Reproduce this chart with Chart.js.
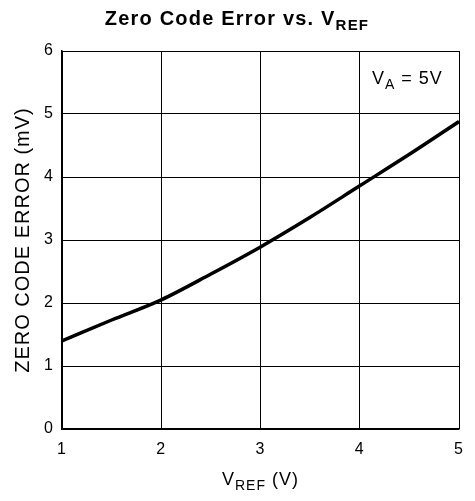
<!DOCTYPE html>
<html>
<head>
<meta charset="utf-8">
<script src="https://cdn.jsdelivr.net/npm/chart.js@4"></script>
<style>
  html, body { margin: 0; padding: 0; background: #fff; }
  #wrap { width: 475px; height: 501px; }
</style>
</head>
<body>
<div id="wrap"><canvas id="chart" width="475" height="501"></canvas></div>
<script>
// data
const vref = [1, 1.5, 2, 2.5, 3, 3.5, 4, 4.5, 5];
const zeroCodeError = [1.40, 1.73, 2.05, 2.46, 2.89, 3.36, 3.86, 4.36, 4.88];
const xTicks = [1, 2, 3, 4, 5];
const yTicks = [0, 1, 2, 3, 4, 5, 6];

const FONT = '"Liberation Sans", Arial, Helvetica, sans-serif';

// text with a subscript, drawn centered at x
function drawSub(ctx, parts, x, y, spacing) {
  ctx.letterSpacing = spacing + 'px';
  let total = 0;
  parts.forEach(p => { ctx.font = p.font; total += ctx.measureText(p.text).width; });
  let cx = x - total / 2;
  ctx.textAlign = 'left';
  ctx.textBaseline = 'alphabetic';
  ctx.fillStyle = '#000';
  parts.forEach(p => {
    ctx.font = p.font;
    ctx.fillText(p.text, cx, y + (p.dy || 0));
    cx += ctx.measureText(p.text).width;
  });
}

// looser letter spacing, like the original
const spacingPlugin = {
  id: 'spacing',
  beforeDraw(chart) { chart.ctx.letterSpacing = '1px'; }
};

const labelsPlugin = {
  id: 'labels',
  afterDraw(chart) {
    const ctx = chart.ctx;
    const a = chart.chartArea;
    ctx.save();
    // title
    drawSub(ctx, [
      { text: 'Zero Code Error vs. V', font: 'bold 20px ' + FONT },
      { text: 'REF', font: 'bold 15px ' + FONT, dy: 5 }
    ], 237, 25, 1.2);
    // x axis title
    drawSub(ctx, [
      { text: 'V', font: '18px ' + FONT },
      { text: 'REF', font: '14px ' + FONT, dy: 5 },
      { text: ' (V)', font: '18px ' + FONT }
    ], (a.left + a.right) / 2, 485, 1);
    // condition note
    const xs = chart.scales.x, ys = chart.scales.y;
    drawSub(ctx, [
      { text: 'V', font: '18px ' + FONT },
      { text: 'A', font: '14px ' + FONT, dy: 5 },
      { text: ' = 5V', font: '18px ' + FONT }
    ], xs.getPixelForValue(4.48), ys.getPixelForValue(5.5) + 1, 1);
    ctx.restore();
  }
};

new Chart(document.getElementById('chart'), {
  type: 'line',
  data: {
    datasets: [{
      data: vref.map((v, i) => ({ x: v, y: zeroCodeError[i] })),
      borderColor: '#000',
      borderWidth: 3.5,
      pointRadius: 0,
      cubicInterpolationMode: 'monotone',
      fill: false
    }]
  },
  options: {
    responsive: false,
    animation: false,
    layout: { padding: { top: 51, right: 16, left: 0, bottom: 0 } },
    plugins: {
      legend: { display: false },
      title: { display: false },
      tooltip: { enabled: false }
    },
    scales: {
      x: {
        type: 'linear',
        min: 1,
        max: 5,
        afterBuildTicks: s => { s.ticks = xTicks.map(v => ({ value: v })); },
        afterFit: s => { s.height = 72; },
        grid: { color: '#000', lineWidth: 1, drawTicks: false },
        border: { color: '#000', width: 1.5 },
        ticks: { color: '#000', padding: 11, font: { family: FONT, size: 16 } }
      },
      y: {
        min: 0,
        max: 6,
        afterBuildTicks: s => { s.ticks = yTicks.map(v => ({ value: v })); },
        afterFit: s => { s.width = 62; },
        grid: { color: '#000', lineWidth: 1, drawTicks: false },
        border: { color: '#000', width: 1.5 },
        ticks: { color: '#000', padding: 8, font: { family: FONT, size: 16 } },
        title: {
          display: true,
          text: 'ZERO CODE ERROR (mV)',
          color: '#000',
          font: { family: FONT, size: 20 },
          padding: { top: 11, bottom: 0 }
        }
      }
    }
  },
  plugins: [spacingPlugin, labelsPlugin]
});
</script>
</body>
</html>
